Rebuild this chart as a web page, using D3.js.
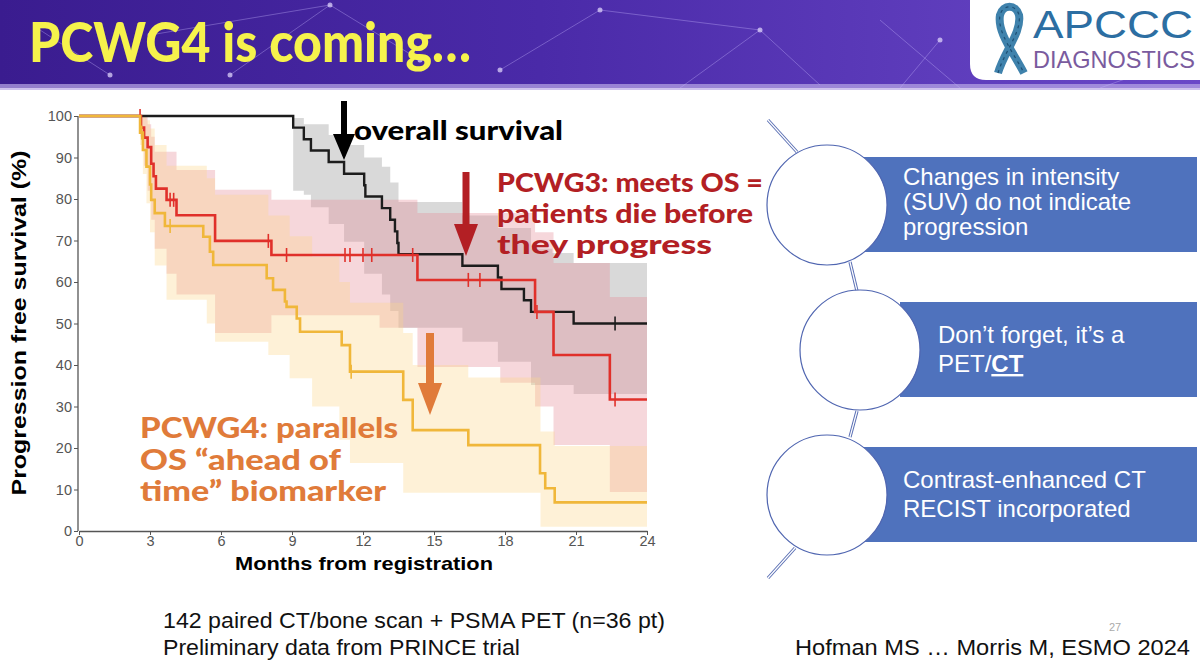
<!DOCTYPE html>
<html>
<head>
<meta charset="utf-8">
<script src="https://cdn.jsdelivr.net/npm/d3@7"></script>
<style>
  html, body { margin: 0; padding: 0; background: #fff; }
  svg { display: block; }
</style>
</head>
<body>
<svg id="slide" width="1200" height="671"></svg>
<script>
// ---- data ----
// Kaplan-Meier steps [month, % free]
const osSteps = [[0,100],[9.05,97.2],[9.5,94.4],[9.8,91.7],[10.55,88.9],[11.2,86.1],[12.05,83.3],[12.1,80.6],
  [12.8,77.8],[13.15,75],[13.35,72.2],[13.45,69.4],[13.5,66.7],[16.2,63.9],[17.7,61.1],[17.85,58.3],
  [18.8,55.6],[19.1,52.8],[20.9,50],[24,50]];
const pcwg3Steps = [[0,100],[2.62,97.2],[2.75,94.8],[2.9,92.5],[3.05,88.5],[3.15,85.5],[3.25,82.5],[3.7,79.8],
  [4.12,76.1],[5.75,69.9],[8.13,66.5],[14.3,60.5],[19.27,52.8],[20.05,42.4],[22.43,31.7],[24,31.7]];
const pcwg4Steps = [[0,100],[2.58,96],[2.7,91.8],[2.85,87.8],[3.0,83.5],[3.05,79.8],[3.2,76.6],[3.63,73.5],
  [5.25,70.9],[5.53,67.3],[5.67,64.1],[7.93,60.9],[8.2,58.1],[8.7,55.3],[8.77,54.0],[9.2,51.2],[9.34,48.0],
  [11.1,44.8],[11.45,38.4],[13.7,31.6],[14.1,24.3],[16.45,20.7],[19.48,13.9],[19.7,10.3],[20.1,6.9],[24,6.9]];

// confidence bands [month, lower, upper]
const osCI = [[9.05,82,99.5],[9.5,81,98],[9.8,78,98],[10.55,74,95.4],[11.2,69.7,93],[12.05,62,90],[12.8,57,87.8],
  [13.15,53,84],[13.5,49,79.3],[16.2,45.6,76],[17.7,40.8,73],[19.1,35.2,68],[20.0,35.2,67],[20.9,33,64.6],[24,33,64.6]];
const pcwg3CI = [[2.6,95,100],[2.75,88,100],[2.9,82,98],[3.05,75,95],[3.2,68,91.4],[3.7,62,91.4],[4.12,57,87],
  [5.75,47.7,82.2],[8.13,52,79.8],[12.7,49,79.8],[14.3,39.5,76.6],[17.8,35.7,76.6],[19.27,30,72],
  [20.05,20.7,64.6],[22.43,9.4,56.4],[24,9.4,56.4]];
const pcwg4CI = [[2.58,93,100],[2.7,86,100],[2.85,79,99],[3.0,72,97],[3.2,64,93],[3.7,55.7,88],[5.4,50,85],
  [5.75,45.6,81],[8.0,42.4,76],[8.9,36.8,71],[9.85,30,66],[11.0,22,60],[11.45,16.4,55],[13.7,9.2,47.7],
  [14.1,9.2,40],[16.45,9.2,37],[19.5,1,24],[20.1,1,20.5],[24,1,20.5]];

// censor marks (months)
const osCensor = [22.65];
const pcwg3Censor = [2.58,3.85,4.0,8.0,8.77,11.24,11.45,12.0,12.37,14.1,16.45,16.94,19.35,22.65];
const pcwg4Censor = [2.65,3.85,11.5];

const xTicks = d3.range(0, 25, 3);
const yTicks = d3.range(0, 101, 10);

const boxLines = [
  ["Changes in intensity", "(SUV) do not indicate", "progression"],
  ["Don\u2019t forget, it\u2019s a", "PET/"],
  ["Contrast-enhanced CT", "RECIST incorporated"]
];
const footLeft = [["142 paired CT/bone scan + PSMA PET (n=36 pt)", 502], ["Preliminary data from PRINCE trial", 357]];
const footRight = "Hofman MS \u2026 Morris M, ESMO 2024";

// ---- setup ----
const svg = d3.select("#slide");
const defs = svg.append("defs");
const sans = "'Liberation Sans', Arial, sans-serif";
const narrow = "'Liberation Sans Narrow', 'Liberation Sans', Arial, sans-serif";

//HEADER
let grad = defs.append("linearGradient").attr("id", "hdr").attr("x1", 0).attr("x2", 1).attr("y1", 0).attr("y2", 0);
grad.append("stop").attr("offset", "0%").attr("stop-color", "#3a1c8f");
grad.append("stop").attr("offset", "45%").attr("stop-color", "#4a2aa8");
grad.append("stop").attr("offset", "100%").attr("stop-color", "#6a48c8");
svg.append("rect").attr("x", 0).attr("y", 0).attr("width", 1200).attr("height", 88).attr("fill", "url(#hdr)");
svg.append("rect").attr("x", 0).attr("y", 84).attr("width", 1200).attr("height", 6).attr("fill", "#b9a8e6").attr("opacity", 0.7);

// faint network strands in the banner
const netLines = [[150,35,330,5],[330,5,420,60],[230,75,330,5],[600,10,760,30],[760,30,820,85],[880,20,960,88],
  [680,88,760,30],[40,30,110,75],[900,88,940,40],[500,70,600,10],[1100,88,1150,70]];
svg.append("g").selectAll("line").data(netLines).join("line")
  .attr("x1", d => d[0]).attr("y1", d => d[1]).attr("x2", d => d[2]).attr("y2", d => d[3])
  .attr("stroke", "#c8b8ff").attr("stroke-width", 0.8).attr("opacity", 0.45);
const netDots = [[150,35],[330,5],[230,75],[760,30],[420,60],[110,75],[600,10],[940,40],[500,70]];
svg.append("g").selectAll("circle").data(netDots).join("circle")
  .attr("cx", d => d[0]).attr("cy", d => d[1]).attr("r", 2.5).attr("fill", "#e6dcff").attr("opacity", 0.7);

svg.append("text").attr("x", 29).attr("y", 62)
  .attr("font-family", "Lato, 'Noto Sans', sans-serif").attr("font-weight", 900).attr("font-size", 56)
  .attr("fill", "#f6f24c").attr("textLength", 442).attr("lengthAdjust", "spacingAndGlyphs")
  .text("PCWG4 is coming\u2026");

//LOGO
svg.append("path").attr("d", "M970,0 H1200 V80 H986 Q970,80 970,64 Z").attr("fill", "#fff");
svg.append("path")
  .attr("d", "M998,73 C1004,52 1022,32 1019,15 C1016,4 1003,4 1000,15 C997,32 1013,52 1024,73")
  .attr("fill", "none").attr("stroke", "#3f82ac").attr("stroke-width", 8).attr("stroke-linecap", "butt");
svg.append("path")
  .attr("d", "M998,73 C1004,52 1022,32 1019,15 C1016,4 1003,4 1000,15 C997,32 1013,52 1024,73")
  .attr("fill", "none").attr("stroke", "#1d4f74").attr("stroke-width", 1.2).attr("stroke-dasharray", "3 4");
svg.append("text").attr("x", 1033).attr("y", 38)
  .attr("font-family", sans).attr("font-size", 38).attr("fill", "#2c6ea2")
  .attr("textLength", 160).attr("lengthAdjust", "spacingAndGlyphs").text("APCCC");
svg.append("text").attr("x", 1033).attr("y", 68)
  .attr("font-family", sans).attr("font-size", 24).attr("fill", "#7a5b9e")
  .attr("textLength", 162).attr("lengthAdjust", "spacingAndGlyphs").text("DIAGNOSTICS");

//CHART
let x = d3.scaleLinear().domain([0, 24]).range([79, 647]);
let y = d3.scaleLinear().domain([0, 100]).range([531, 116]);
let chart = svg.append("g");

let band = d3.area().curve(d3.curveStepAfter)
  .x(d => x(d[0])).y0(d => y(d[1])).y1(d => y(d[2]));
chart.append("path").datum(osCI).attr("d", band).attr("fill", "#b4b4b4").attr("opacity", 0.5);
chart.append("path").datum(pcwg3CI).attr("d", band).attr("fill", "#e68a96").attr("opacity", 0.34);
chart.append("path").datum(pcwg4CI).attr("d", band).attr("fill", "#fbd68a").attr("opacity", 0.34);

// axes
let yAxis = d3.axisLeft(y).tickValues(yTicks).tickSize(4).tickSizeOuter(0).tickPadding(2);
let xAxis = d3.axisBottom(x).tickValues(xTicks).tickSize(4).tickSizeOuter(0).tickPadding(1);
let gy = chart.append("g").attr("transform", "translate(78,0)").call(yAxis);
let gx = chart.append("g").attr("transform", "translate(0,531)").call(xAxis);
[gx, gy].forEach(function (g) {
  g.select(".domain").attr("stroke", "#555").attr("stroke-width", 1.3);
  g.selectAll(".tick line").attr("stroke", "#555");
  g.selectAll(".tick text").attr("fill", "#555").attr("font-size", 14.5).attr("font-family", sans);
});
gy.select(".domain").attr("d", "M0," + y(0) + "V" + y(100));

chart.append("text").attr("transform", "translate(26,323) rotate(-90)").attr("text-anchor", "middle")
  .attr("font-family", sans).attr("font-weight", "bold").attr("font-size", 20)
  .attr("textLength", 345).attr("lengthAdjust", "spacingAndGlyphs")
  .text("Progression free survival (%)");
chart.append("text").attr("x", 364).attr("y", 570).attr("text-anchor", "middle")
  .attr("font-family", sans).attr("font-weight", "bold").attr("font-size", 19)
  .attr("textLength", 258).attr("lengthAdjust", "spacingAndGlyphs")
  .text("Months from registration");

// survival lines
let step = d3.line().curve(d3.curveStepAfter).x(d => x(d[0])).y(d => y(d[1]));
function survAt(steps, t) {
  let i = d3.bisector(d => d[0]).right(steps, t) - 1;
  return steps[Math.max(i, 0)][1];
}
function drawCurve(steps, censor, color, w) {
  chart.append("path").datum(steps).attr("d", step).attr("fill", "none")
    .attr("stroke", color).attr("stroke-width", w);
  chart.append("g").selectAll("line").data(censor).join("line")
    .attr("x1", d => x(d)).attr("x2", d => x(d))
    .attr("y1", d => y(survAt(steps, d)) - 7).attr("y2", d => y(survAt(steps, d)) + 7)
    .attr("stroke", color).attr("stroke-width", 1.6);
}
drawCurve(osSteps, osCensor, "#1c1c1c", 2.4);
drawCurve(pcwg3Steps, pcwg3Censor, "#e0302a", 2.6);
drawCurve(pcwg4Steps, pcwg4Censor, "#f0b73a", 2.6);

//ANNOTATIONS
function arrow(cx, top, tip, headLen, shaft, head, color) {
  svg.append("path")
    .attr("d", "M" + (cx - shaft / 2) + "," + top + " H" + (cx + shaft / 2) + " V" + (tip - headLen) +
      " H" + (cx + head / 2) + " L" + cx + "," + tip + " L" + (cx - head / 2) + "," + (tip - headLen) +
      " H" + (cx - shaft / 2) + " Z")
    .attr("fill", color);
}
arrow(344, 101, 160, 26, 6, 22, "#000");
arrow(466, 172, 256, 32, 7, 24, "#b31f24");
arrow(430, 333, 415, 32, 8, 24, "#e07b3a");

let annoFont = "Lato, 'Noto Sans', sans-serif";
svg.append("text").attr("x", 354).attr("y", 140).attr("font-family", annoFont).attr("font-weight", 900)
  .attr("font-size", 27).attr("fill", "#000").attr("textLength", 209).attr("lengthAdjust", "spacingAndGlyphs")
  .text("overall survival");

const pcwg3Text = [["PCWG3: meets OS =", 266], ["patients die before", 256], ["they progress", 215]];
svg.append("g").selectAll("text").data(pcwg3Text).join("text")
  .attr("x", 497).attr("y", (d, i) => 192 + i * 31).attr("font-family", annoFont).attr("font-weight", 900)
  .attr("font-size", 27).attr("fill", "#b31f24").attr("textLength", d => d[1]).attr("lengthAdjust", "spacingAndGlyphs")
  .text(d => d[0]);

const pcwg4Text = [["PCWG4: parallels", 258], ["OS \u201cahead of", 201], ["time\u201d biomarker", 246]];
svg.append("g").selectAll("text").data(pcwg4Text).join("text")
  .attr("x", 140).attr("y", (d, i) => 438 + i * 31.5).attr("font-family", annoFont).attr("font-weight", 900)
  .attr("font-size", 28).attr("fill", "#e07b3a").attr("textLength", d => d[1]).attr("lengthAdjust", "spacingAndGlyphs")
  .text(d => d[0]);

//RIGHT DIAGRAM
let dia = svg.append("g");
// arc strands (double line)
const strands = [[768,120,797,152],[850,262,857,291],[857,411,850,437],[795,548,768,578]];
strands.forEach(function (s) {
  dia.append("line").attr("x1", s[0]).attr("y1", s[1]).attr("x2", s[2]).attr("y2", s[3])
    .attr("stroke", "#5a6fb4").attr("stroke-width", 3.2);
  dia.append("line").attr("x1", s[0]).attr("y1", s[1]).attr("x2", s[2]).attr("y2", s[3])
    .attr("stroke", "#fff").attr("stroke-width", 1.2);
});
const boxes = [
  { x: 860, y: 157, w: 337, h: 95, cx: 827, cy: 205, tx: 903, ty: [185, 210, 235] },
  { x: 900, y: 302, w: 297, h: 95, cx: 860, cy: 350, tx: 938, ty: [343, 372] },
  { x: 860, y: 447, w: 337, h: 95, cx: 827, cy: 495, tx: 903, ty: [488, 517] }
];
boxes.forEach(function (b, i) {
  dia.append("rect").attr("x", b.x).attr("y", b.y).attr("width", b.w).attr("height", b.h).attr("fill", "#4f72bd");
  dia.append("circle").attr("cx", b.cx).attr("cy", b.cy).attr("r", 60).attr("fill", "#fff")
    .attr("stroke", "#4f65b0").attr("stroke-width", 1.2);
  boxLines[i].forEach(function (t, j) {
    let tx = dia.append("text").attr("x", b.tx).attr("y", b.ty[j])
      .attr("font-family", sans).attr("font-size", 24).attr("fill", "#fff")
      .text(t);
    if (i == 1 && j == 1) {
      tx.append("tspan").attr("font-weight", "bold").attr("text-decoration", "underline").text("CT");
    }
  });
});

//FOOTER
svg.append("g").selectAll("text").data(footLeft).join("text")
  .attr("x", 163).attr("y", (d, i) => 628 + i * 27)
  .attr("font-family", narrow).attr("font-size", 22).attr("fill", "#111")
  .attr("textLength", d => d[1]).attr("lengthAdjust", "spacingAndGlyphs")
  .text(d => d[0]);
svg.append("text").attr("x", 1109).attr("y", 631).attr("font-family", sans)
  .attr("font-size", 11).attr("fill", "#aaa").text("27");
svg.append("text").attr("x", 795).attr("y", 655)
  .attr("font-family", narrow).attr("font-size", 22).attr("fill", "#111")
  .attr("textLength", 395).attr("lengthAdjust", "spacingAndGlyphs")
  .text(footRight);
</script>
</body>
</html>
